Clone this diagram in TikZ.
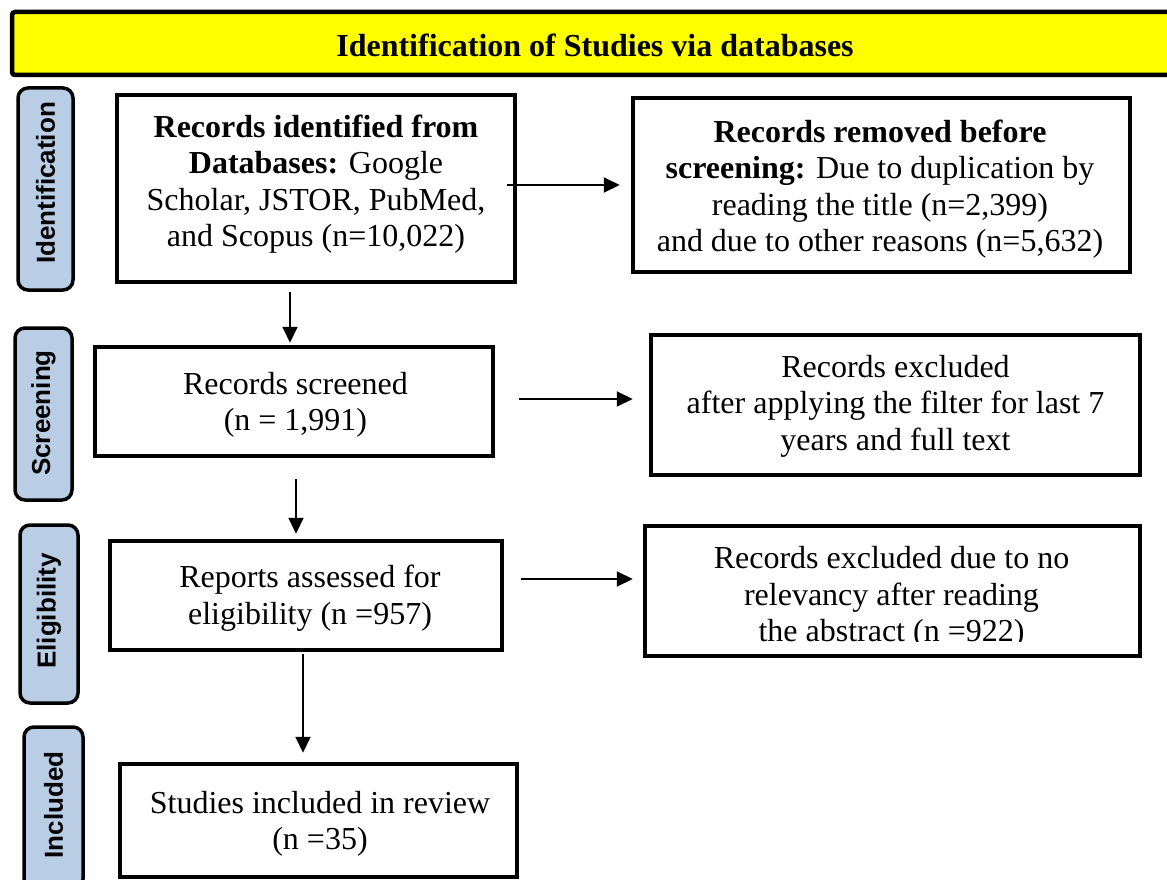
\documentclass[tikz,border=0pt]{standalone}
\usepackage{fontspec}
\setmainfont{Liberation Serif}
\setsansfont{Liberation Sans}
\usetikzlibrary{arrows.meta,calc}
\definecolor{sidefill}{HTML}{B9CDE5}
\definecolor{titlefill}{HTML}{FFFF00}
\begin{document}
\begin{tikzpicture}[x=1pt,y=-1pt,
  box/.style={draw,line width=4.5pt,rectangle,inner sep=0pt},
  btext/.style={align=center,inner sep=0pt,font=\fontsize{32}{36.5}\selectfont},
  side/.style={draw,line width=3.5pt,fill=sidefill,rounded corners=10pt,rectangle,inner sep=0pt},
  sidetext/.style={rotate=90,inner sep=0pt,font=\sffamily\bfseries\fontsize{26}{30}\selectfont},
  arr/.style={line width=2pt,-{Triangle[length=16pt,width=15pt]}}]
\useasboundingbox (0,0) rectangle (1167,880);
\clip (0,0) rectangle (1167,880);
% title
\node[draw,line width=4.5pt,fill=titlefill,rounded corners=3pt,minimum width=1168pt,minimum height=63pt,inner sep=0pt] (title) at (596,43.5) {};
\node[inner sep=0pt,font=\bfseries\fontsize{32}{36}\selectfont] (titlet) at (595,45) {Identification of Studies via databases};
% side labels
\node[side,minimum width=55pt,minimum height=202pt] (s1) at (45.5,189) {};
\node[sidetext] (s1t) at (45.5,183) {Identification};
\node[side,minimum width=57pt,minimum height=172pt] (s2) at (43.5,414) {};
\node[sidetext] (s2t) at (43.5,413) {Screening};
\node[side,minimum width=58pt,minimum height=178pt] (s3) at (49,614) {};
\node[sidetext] (s3t) at (49,611) {Eligibility};
\node[side,minimum width=59pt,minimum height=162pt] (s4) at (53.5,808) {};
\node[sidetext] (s4t) at (53.5,805) {Included};
% boxes
\node[box,minimum width=398pt,minimum height=187pt] (b1) at (316,188.5) {};
\node[btext] (b1t) at (316,184) {\textbf{Records identified from}\\\textbf{Databases:} Google\\Scholar, JSTOR, PubMed,\\and Scopus (n=10,022)};
\node[box,minimum width=497pt,minimum height=174pt] (b2) at (881.5,185) {};
\node[btext] (b2t) at (880,189) {\textbf{Records removed before}\\\textbf{screening:} Due to duplication by\\reading the title (n=2,399)\\and due to other reasons (n=5,632)};
\node[box,minimum width=398pt,minimum height=109pt] (b3) at (294,401.5) {};
\node[btext] (b3t) at (295.5,405) {Records screened\\(n = 1,991)};
\node[box,minimum width=489pt,minimum height=140pt] (b4) at (895.5,405) {};
\node[btext] (b4t) at (895.5,406) {Records excluded\\after applying the filter for last 7\\years and full text};
\node[box,minimum width=392pt,minimum height=109pt] (b5) at (306,595.5) {};
\node[btext] (b5t) at (310,598) {Reports assessed for\\eligibility (n =957)};
\node[box,minimum width=495pt,minimum height=130pt] (b6) at (892.5,591) {};
\begin{scope}
\clip (645,526) rectangle (1140,641);
\node[btext] (b6t) at (891.5,597.5) {Records excluded due to no\\relevancy after reading\\the abstract (n =922)};
\end{scope}
\node[box,minimum width=397pt,minimum height=113pt] (b7) at (318.5,820.5) {};
\node[btext] (b7t) at (320,824) {Studies included in review\\(n =35)};
% arrows
\draw[arr] ($(b1.east)+(-10,-3.5)$) -- ($(b2.west)+(-11,0)$);
\draw[arr] ($(b1.south)+(-26,8)$) -- ($(b3.north)+(-4,-2)$);
\draw[arr] ($(b3.east)+(24,-2.5)$) -- ($(b4.west)+(-16,-6)$);
\draw[arr] ($(b3.south)+(2,21)$) -- ($(b5.north)+(-10,-5)$);
\draw[arr] ($(b5.east)+(17,-16.5)$) -- ($(b6.west)+(-10,-12)$);
\draw[arr] ($(b5.south)+(-3,2)$) -- ($(b7.north)+(-15.5,-9)$);
\end{tikzpicture}
\end{document}
